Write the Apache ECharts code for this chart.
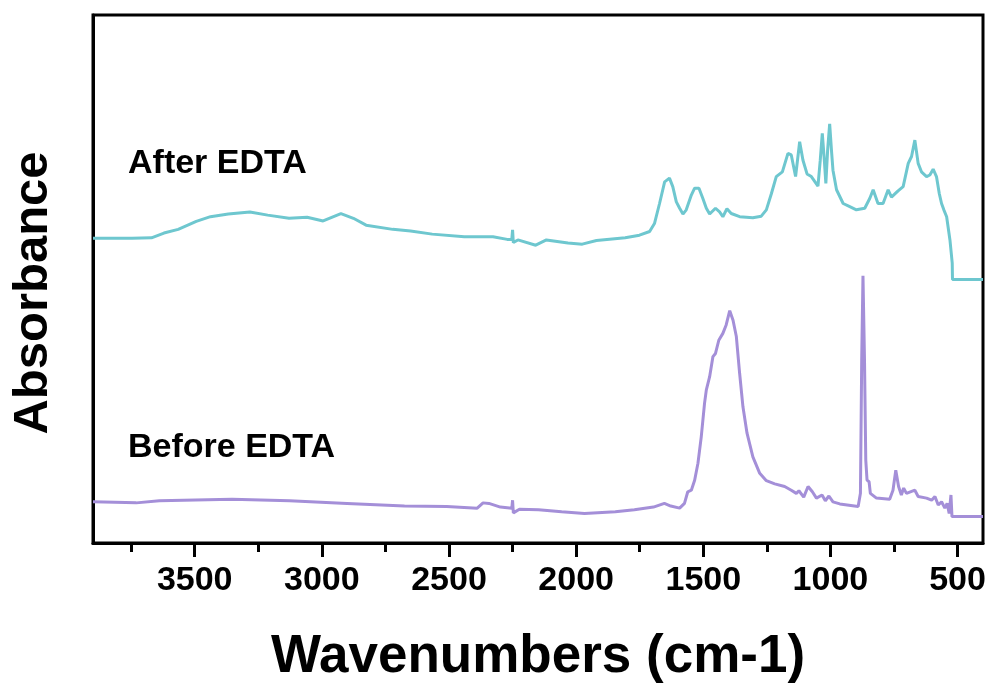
<!DOCTYPE html>
<html>
<head>
<meta charset="utf-8">
<title>FTIR spectra before and after EDTA</title>
<script src="https://cdn.jsdelivr.net/npm/echarts@6/dist/echarts.min.js"></script>
<style>
  html, body { margin: 0; padding: 0; background: #ffffff; }
  #chart { width: 992px; height: 698px; }
</style>
</head>
<body>
<div id="chart"></div>
<script>
// FTIR spectra (arbitrary absorbance units, offset traces)
const afterWavenumbers = [
  3900, 3747, 3670, 3621, 3565, 3494, 3438, 3368, 3283, 3213, 3129, 3058, 2995, 2925, 2876,
  2826, 2721, 2651, 2566, 2440, 2327, 2271, 2253, 2250, 2247, 2229, 2159, 2117, 2032, 1976,
  1920, 1807, 1751, 1711, 1692, 1672, 1652, 1646, 1633, 1620, 1606, 1593, 1580, 1567, 1547,
  1534, 1517, 1502, 1488, 1475, 1452, 1436, 1423, 1407, 1390, 1357, 1305, 1272, 1252, 1232,
  1213, 1189, 1167, 1154, 1137, 1121, 1108, 1092, 1075, 1069, 1049, 1040, 1032, 1024, 1018,
  1011, 1003, 996, 990, 976, 950, 924, 898, 865, 845, 832, 813, 793, 773, 760,
  734, 714, 694, 681, 668, 655, 642, 622, 609, 596, 583, 572, 563, 554, 543,
  530, 521, 520, 400
];
const afterAbsorbance = [
  0.577, 0.577, 0.578, 0.587, 0.594, 0.609, 0.618, 0.623, 0.627, 0.621, 0.615, 0.617, 0.610, 0.624, 0.615,
  0.602, 0.594, 0.591, 0.585, 0.580, 0.580, 0.575, 0.575, 0.593, 0.569, 0.574, 0.564, 0.574, 0.568, 0.566,
  0.573, 0.578, 0.583, 0.590, 0.605, 0.643, 0.684, 0.686, 0.691, 0.675, 0.646, 0.634, 0.623, 0.631, 0.659,
  0.672, 0.672, 0.653, 0.634, 0.623, 0.634, 0.627, 0.618, 0.633, 0.624, 0.618, 0.616, 0.619, 0.631, 0.662,
  0.694, 0.703, 0.738, 0.735, 0.694, 0.760, 0.725, 0.699, 0.694, 0.691, 0.676, 0.725, 0.776, 0.725, 0.681,
  0.744, 0.794, 0.744, 0.706, 0.669, 0.643, 0.637, 0.631, 0.634, 0.653, 0.669, 0.643, 0.643, 0.669, 0.655,
  0.667, 0.675, 0.719, 0.732, 0.763, 0.719, 0.703, 0.694, 0.697, 0.708, 0.694, 0.662, 0.643, 0.631, 0.618,
  0.574, 0.530, 0.499, 0.499
];
const beforeWavenumbers = [
  3900, 3730, 3639, 3353, 3127, 2901, 2675, 2509, 2389, 2366, 2343, 2298, 2253, 2250, 2247,
  2223, 2148, 2057, 1967, 1846, 1771, 1696, 1653, 1628, 1593, 1574, 1561, 1547, 1534, 1521,
  1508, 1495, 1488, 1475, 1462, 1452, 1439, 1423, 1410, 1396, 1383, 1370, 1357, 1344, 1328,
  1305, 1278, 1252, 1219, 1180, 1154, 1134, 1124, 1105, 1088, 1071, 1055, 1033, 1020, 1006,
  990, 963, 891, 882, 877, 872, 866, 861, 856, 848, 843, 819, 767, 754, 743,
  732, 721, 712, 701, 668, 655, 622, 602, 589, 576, 563, 550, 541, 533, 526,
  522, 400
];
const beforeAbsorbance = [
  0.078, 0.076, 0.080, 0.083, 0.080, 0.075, 0.070, 0.069, 0.066, 0.076, 0.075, 0.068, 0.066, 0.081, 0.057,
  0.064, 0.063, 0.059, 0.056, 0.059, 0.063, 0.068, 0.075, 0.070, 0.066, 0.075, 0.097, 0.100, 0.119, 0.151,
  0.201, 0.265, 0.290, 0.315, 0.353, 0.359, 0.384, 0.397, 0.413, 0.440, 0.422, 0.391, 0.321, 0.258, 0.208,
  0.163, 0.132, 0.118, 0.112, 0.107, 0.100, 0.094, 0.099, 0.087, 0.107, 0.097, 0.085, 0.091, 0.080, 0.089,
  0.078, 0.074, 0.069, 0.094, 0.347, 0.506, 0.347, 0.157, 0.119, 0.116, 0.094, 0.085, 0.083, 0.100, 0.138,
  0.107, 0.091, 0.104, 0.094, 0.100, 0.088, 0.085, 0.081, 0.088, 0.072, 0.078, 0.066, 0.075, 0.056, 0.091,
  0.050, 0.050
];
const majorTickValues = [500, 1000, 1500, 2000, 2500, 3000, 3500];
const minorTickValues = [750, 1250, 1750, 2250, 2750, 3250, 3750];
const seriesLabels = ['After EDTA', 'Before EDTA'];
const xTitle = 'Wavenumbers (cm-1)';
const yTitle = 'Absorbance';

const toPairs = (xs, ys) => xs.map((x, i) => [x, ys[i]]);
const FONT = '"Liberation Sans", Arial, Helvetica, sans-serif';

const chart = echarts.init(document.getElementById('chart'), null, { renderer: 'canvas' });

// shared settings for the wavenumber axis and its tick-only overlays
const xCommon = {
  type: 'value',
  min: 400,
  max: 3900,
  inverse: true,
  position: 'bottom',
  splitLine: { show: false }
};
const tickOnlyAxis = (values, len) => Object.assign({}, xCommon, {
  axisLine: { show: false },
  axisTick: { show: true, inside: false, length: len, lineStyle: { color: '#000', width: 3 }, customValues: values },
  axisLabel: { show: false }
});

chart.setOption({
  animation: false,
  backgroundColor: '#ffffff',
  grid: {
    left: 93, right: 9, top: 15, bottom: 155,
    show: true, borderColor: '#000000', borderWidth: 3, backgroundColor: 'transparent'
  },
  xAxis: [
    Object.assign({}, xCommon, {
      name: xTitle,
      nameLocation: 'middle',
      nameGap: 88,
      nameTextStyle: { fontFamily: FONT, fontWeight: 'bold', fontSize: 53, color: '#000' },
      axisLine: { show: true, lineStyle: { color: '#000', width: 3 } },
      axisTick: { show: false },
      axisLabel: {
        show: true, margin: 21, customValues: majorTickValues,
        formatter: v => String(v),
        fontFamily: FONT, fontWeight: 'bold', fontSize: 34, color: '#000'
      }
    }),
    tickOnlyAxis(minorTickValues, 9),
    tickOnlyAxis(majorTickValues, 14)
  ],
  yAxis: {
    type: 'value',
    min: 0,
    max: 1,
    axisLine: { show: true, lineStyle: { color: '#000', width: 3 } },
    axisTick: { show: false },
    axisLabel: { show: false },
    splitLine: { show: false }
  },
  graphic: [
    {
      type: 'text', x: 33, y: 293, rotation: Math.PI / 2,
      style: { text: yTitle, font: 'bold 49px ' + FONT, fill: '#000', align: 'center', verticalAlign: 'middle' }
    },
    { type: 'text', left: 128, top: 147, style: { text: seriesLabels[0], font: 'bold 34px ' + FONT, fill: '#000' } },
    { type: 'text', left: 128, top: 431, style: { text: seriesLabels[1], font: 'bold 34px ' + FONT, fill: '#000' } }
  ],
  series: [
    {
      name: seriesLabels[0],
      type: 'line',
      xAxisIndex: 0,
      data: toPairs(afterWavenumbers, afterAbsorbance),
      showSymbol: false,
      smooth: false,
      lineStyle: { color: '#6ec7cf', width: 3 },
      itemStyle: { color: '#6ec7cf' }
    },
    {
      name: seriesLabels[1],
      type: 'line',
      xAxisIndex: 0,
      data: toPairs(beforeWavenumbers, beforeAbsorbance),
      showSymbol: false,
      smooth: false,
      lineStyle: { color: '#a48fd8', width: 3 },
      itemStyle: { color: '#a48fd8' }
    }
  ]
});
</script>
</body>
</html>
